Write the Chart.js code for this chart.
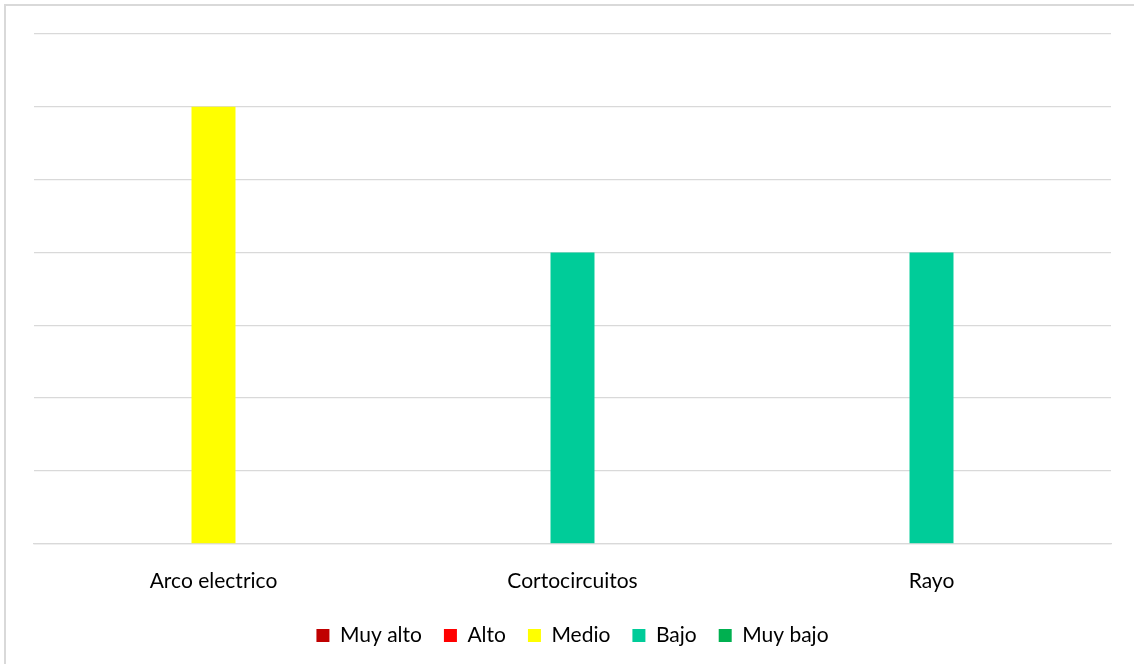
<!DOCTYPE html>
<html>
<head>
<meta charset="utf-8">
<script src="https://cdn.jsdelivr.net/npm/chart.js@4/dist/chart.umd.min.js"></script>
<style>
  html, body { margin: 0; padding: 0; background: #fff; overflow: hidden; }
  #marco { position: absolute; left: 4px; top: 4px; width: 1140px; height: 670px; border: 2px solid #d9d9d9; box-sizing: border-box; }
  #caja { position: absolute; left: 0; top: 0; width: 1134px; height: 664px; }
</style>
</head>
<body>
<div id="marco"></div>
<div id="caja"><canvas id="grafico"></canvas></div>
<script>
const categorias = ['Arco electrico', 'Cortocircuitos', 'Rayo'];
const muyAlto = [0, 0, 0];
const alto = [0, 0, 0];
const medio = [6, 0, 0];
const bajo = [0, 4, 4];
const muyBajo = [0, 0, 0];

const ctx = document.getElementById('grafico').getContext('2d');

new Chart(ctx, {
  type: 'bar',
  data: {
    labels: categorias,
    datasets: [
      { label: 'Muy alto', data: muyAlto, backgroundColor: '#C00000' },
      { label: 'Alto', data: alto, backgroundColor: '#FF0000' },
      { label: 'Medio', data: medio, backgroundColor: '#FFFF00' },
      { label: 'Bajo', data: bajo, backgroundColor: '#00CC99' },
      { label: 'Muy bajo', data: muyBajo, backgroundColor: '#00B050' }
    ]
  },
  options: {
    responsive: true,
    maintainAspectRatio: false,
    animation: false,
    layout: {
      padding: { left: 34, right: 23, top: 34, bottom: 8 }
    },
    datasets: {
      bar: {
        categoryPercentage: 1,
        barPercentage: 0.1225,
        borderWidth: 0
      }
    },
    plugins: {
      legend: {
        position: 'bottom',
        labels: {
          color: '#000',
          boxWidth: 13,
          boxHeight: 13,
          padding: 22,
          font: { family: 'Lato', size: 21 }
        }
      },
      tooltip: { enabled: false }
    },
    scales: {
      x: {
        stacked: true,
        grid: { display: false },
        border: { color: '#d9d9d9', width: 1.3 },
        ticks: {
          color: '#000',
          padding: 17,
          font: { family: 'Lato', size: 21 }
        },
        // acerca la leyenda a las etiquetas
        afterFit: (scale) => { scale.height -= 8; }
      },
      y: {
        stacked: true,
        min: 0,
        max: 7,
        ticks: { display: false, stepSize: 1 },
        grid: { color: '#d9d9d9', lineWidth: 1.3, drawTicks: false },
        border: { display: false }
      }
    }
  }
});
</script>
</body>
</html>
